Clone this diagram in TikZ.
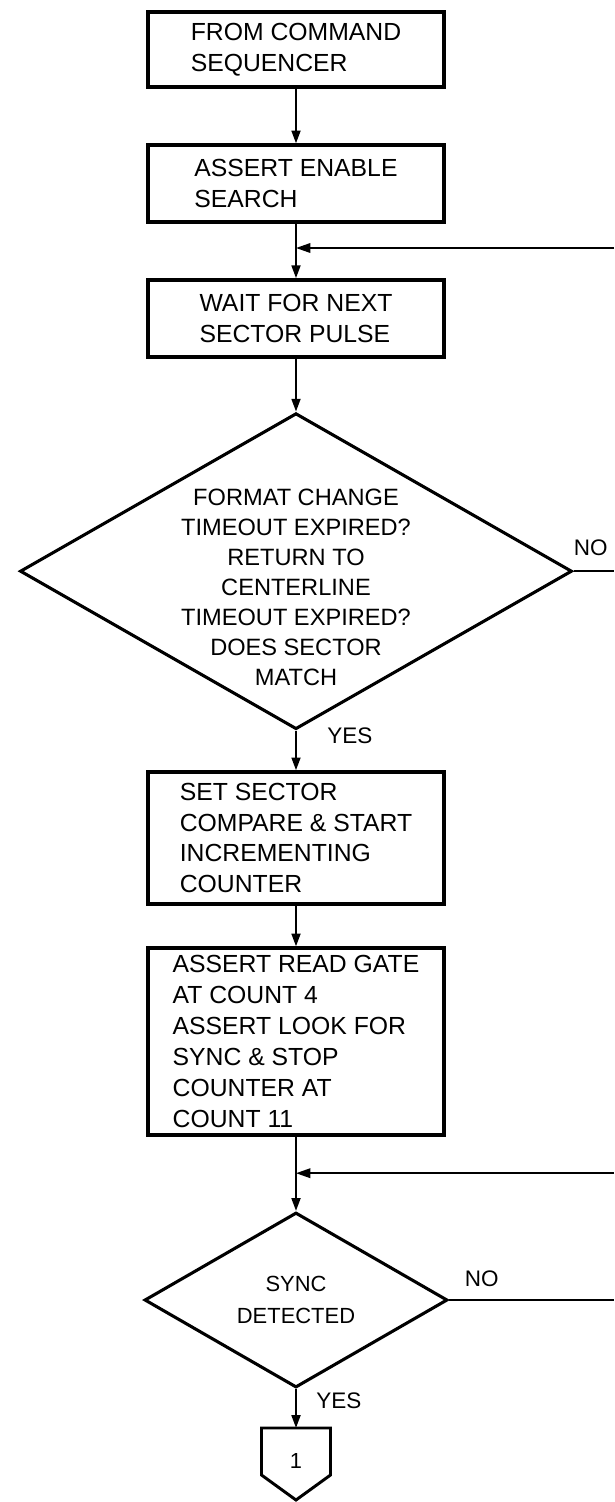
\documentclass[tikz,border=0pt]{standalone}
\usepackage{fontspec}
\setmainfont{Liberation Sans}
\usepackage{tikz}
\usetikzlibrary{shapes.geometric, arrows.meta, positioning, calc}
\newcommand{\boxfont}{\fontsize{17.6}{22}\selectfont}
\newcommand{\tagfont}{\fontsize{16}{18}\selectfont}
\tikzset{
  procbox/.style={rectangle, draw=black, line width=2.4pt,
    minimum width=7.4cm, align=left, inner sep=0pt, font=\boxfont},
  decision/.style={diamond, draw=black, line width=2.2pt,
    inner sep=0pt, align=center},
  tag/.style={anchor=base west, inner sep=0pt, font=\tagfont},
  arrow/.style={-{Triangle[length=0.32cm, width=0.22cm]}, line width=1.6pt},
  looparrow/.style={-{Triangle[length=0.36cm, width=0.24cm]}, line width=1.2pt},
  line/.style={line width=1.2pt}
}

\begin{document}
\begin{tikzpicture}
  \useasboundingbox (0,0) rectangle (15.35,-37.55);

  % Start of search
  \node[procbox, minimum height=1.875cm] (from) at (7.4,-1.24) {FROM COMMAND\\SEQUENCER};
  \node[procbox, minimum height=1.925cm] (enable) at (7.4,-4.59) {ASSERT ENABLE\\SEARCH};
  \node[procbox, minimum height=1.925cm] (wait) at (7.4,-7.96) {WAIT FOR NEXT\\SECTOR PULSE};
  \coordinate (join1) at (7.4,-6.2);
  \coordinate (rim1) at (15.35,-6.2);

  % Sector match test
  \node[decision, minimum width=13.8cm, minimum height=7.9cm] (match) at (7.4,-14.28) {};
  \node[font=\fontsize{16.8}{21.3}\selectfont, align=center] (matchtxt) at (7.4,-14.69)
    {FORMAT CHANGE\\TIMEOUT EXPIRED?\\RETURN TO\\CENTERLINE\\TIMEOUT EXPIRED?\\DOES SECTOR\\MATCH};

  \draw[arrow] (from) -- (enable);
  \draw[arrow] (enable) -- (wait);
  \draw[looparrow] (rim1) -- (join1);
  \draw[arrow] (wait) -- (match);
  \draw[line] (match.east) -- (match.east -| rim1);
  \node[tag] (no1) at ($(match.east)+(0,0.4)$) {NO};
  \node[tag] (yes1) at ($(match.south)+(0.78,-0.33)$) {YES};

  % Counter and read gate
  \node[procbox, minimum height=3.3cm] (setcmp) at (7.4,-20.95)
    {SET SECTOR\\COMPARE \& START\\INCREMENTING\\COUNTER};
  \node[procbox, minimum height=4.675cm] (readgate) at (7.4,-26.04)
    {ASSERT READ GATE\\AT COUNT 4\\ASSERT LOOK FOR\\SYNC \& STOP\\COUNTER AT\\COUNT 11};
  \draw[arrow] (match) -- (setcmp);
  \draw[arrow] (setcmp) -- (readgate);

  % Sync test
  \coordinate (join2) at (7.4,-29.33);
  \coordinate (rim2) at (15.35,-29.33);
  \node[decision, minimum width=7.575cm, minimum height=4.375cm,
    font=\fontsize{15.6}{22.5}\selectfont] (sync) at (7.4,-32.5) {SYNC\\DETECTED};
  \draw[arrow] (readgate) -- (sync);
  \draw[looparrow] (rim2) -- (join2);
  \draw[line] (sync.east) -- (sync.east -| rim2);
  \node[tag] (no2) at ($(sync.east)+(0.39,0.33)$) {NO};
  \node[tag] (yes2) at ($(sync.south)+(0.5,-0.48)$) {YES};

  % Off-page connector
  \coordinate (pg) at (7.4,-35.7);
  \node[font=\fontsize{15.5}{17}\selectfont] (page1) at (7.4,-36.53) {1};
  \draw[line width=2.1pt] (pg) -- ++(0.8625,0) -- ++(0,-1.175) -- (7.4,-37.5)
    -- (6.5375,-36.875) -- ++(0,1.175) -- cycle;
  \draw[arrow] (sync) -- (pg);
\end{tikzpicture}
\end{document}
